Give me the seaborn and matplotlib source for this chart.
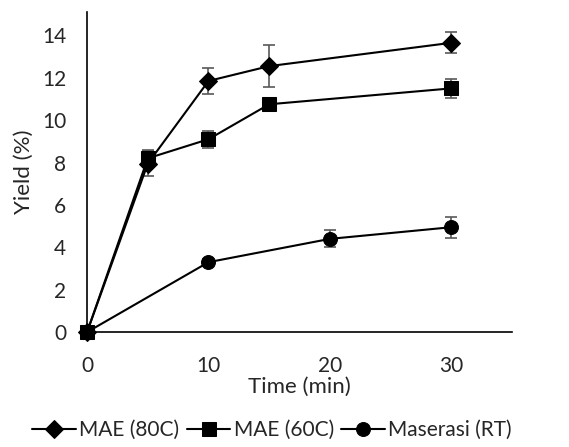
import numpy as np
import pandas as pd
import matplotlib
matplotlib.use("Agg")
import matplotlib.pyplot as plt
import seaborn as sns

# Data
time_80 = [0, 5, 10, 15, 30]
yield_80 = [0, 7.95, 11.85, 12.55, 13.65]
err_80 = [0, 0.6, 0.6, 1.0, 0.5]

time_60 = [0, 5, 10, 15, 30]
yield_60 = [0, 8.2, 9.1, 10.75, 11.5]
err_60 = [0, 0.4, 0.4, 0.2, 0.45]

time_rt = [0, 10, 20, 30]
yield_rt = [0, 3.3, 4.4, 4.95]
err_rt = [0, 0.15, 0.4, 0.5]

labels = ["MAE (80C)", "MAE (60C)", "Maserasi (RT)"]
markers = ["D", "s", "o"]
msizes = [9, 9.5, 10]

sns.set_style("white")
plt.rcParams['font.family'] = ['Lato', 'DejaVu Sans']

fig = plt.figure(figsize=(5.69, 4.47), dpi=100)
ax = fig.add_axes([0.153, 0.257, 0.747, 0.716])

series = [(time_80, yield_80, err_80), (time_60, yield_60, err_60), (time_rt, yield_rt, err_rt)]
for (t, y, e), lab, mk, ms in zip(series, labels, markers, msizes):
    ax.errorbar(t, y, yerr=e, fmt='none', ecolor='#595959', elinewidth=1.2,
                capsize=4, capthick=1.2, zorder=2, clip_on=False)
    sns.lineplot(x=t, y=y, ax=ax, color='black', marker=mk, markersize=ms,
                 markeredgecolor='black', linewidth=1.5, label=lab,
                 zorder=3, clip_on=False, legend=False)

ax.set_xlim(0, 35)
ax.set_ylim(0, 15.1)
ax.set_xticks([0, 10, 20, 30])
ax.set_yticks(np.arange(0, 15, 2))
ax.tick_params(axis='both', labelsize=15, length=0)
ax.tick_params(axis='x', pad=17)
ax.tick_params(axis='y', pad=15)
ax.set_xlabel("Time (min)", fontsize=16, labelpad=1)
ax.set_ylabel("Yield (%)", fontsize=16, labelpad=6)

for side in ['top', 'right']:
    ax.spines[side].set_visible(False)
for side in ['left', 'bottom']:
    ax.spines[side].set_color('black')
    ax.spines[side].set_linewidth(1.2)

handles = ax.get_lines()
handles = [h for h in handles if h.get_label() in labels]
fig.legend(handles, labels, loc='center', bbox_to_anchor=(0.478, 0.038), ncol=3,
           frameon=False, fontsize=15, handlelength=2.1, handletextpad=0.15,
           columnspacing=0.35, borderaxespad=0)

fig.savefig("out.png", dpi=100)
